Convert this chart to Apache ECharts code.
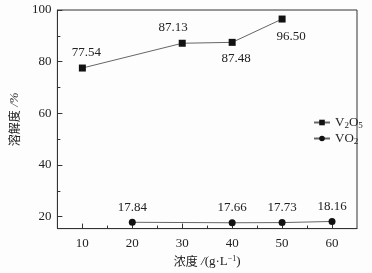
<!DOCTYPE html>
<html>
<head>
<meta charset="utf-8">
<script src="https://cdn.jsdelivr.net/npm/echarts@6/dist/echarts.min.js"></script>
<style>
  html, body { margin: 0; padding: 0; background: #fdfdfd; }
  #container { width: 372px; height: 273px; }
</style>
</head>
<body>
<div id="container"></div>
<script>
var concV2O5 = [10, 30, 40, 50];
var solV2O5 = [77.54, 87.13, 87.48, 96.50];
var concVO2 = [20, 40, 50, 60];
var solVO2 = [17.84, 17.66, 17.73, 18.16];
var xTicks = [10, 20, 30, 40, 50, 60];
var xMinor = [15, 25, 35, 45, 55];
var yTicks = [20, 40, 60, 80, 100];
var yMinor = [30, 50, 70, 90];

// label placement per point (top/bottom, x shift, distance)
var labelV2O5 = [
  { position: "top", offset: [4, 0], distance: 5 },
  { position: "top", offset: [-9, 0], distance: 6 },
  { position: "bottom", offset: [4, 0], distance: 6 },
  { position: "bottom", offset: [9, 0], distance: 8 }
];

var dom = document.getElementById("container");
var myChart = echarts.init(dom, null, { renderer: "canvas" });

var font = "Liberation Serif";
var cjk = "Noto Sans CJK SC";
var txt = "#222";

function pairs(xs, ys, labels) {
  return xs.map(function (x, i) {
    var d = { value: [x, ys[i]] };
    if (labels) d.label = labels[i];
    return d;
  });
}

var nameRich = {
  c: { fontFamily: cjk, fontSize: 12, color: txt },
  i: { fontFamily: font, fontSize: 13, color: txt, fontStyle: "italic" },
  r: { fontFamily: font, fontSize: 13, color: txt },
  sup: { fontFamily: font, fontSize: 8, color: txt, verticalAlign: "top", padding: [0, 0, 6, 0] }
};

var option = {
  backgroundColor: "#fdfdfd",
  animation: false,
  grid: {
    left: 53, right: 15, top: 10, bottom: 43,
    show: true, borderColor: "#333", borderWidth: 1, backgroundColor: "transparent"
  },
  legend: {
    left: 308, top: 111,
    orient: "vertical",
    itemWidth: 16, itemHeight: 7, itemGap: 2,
    textStyle: {
      fontFamily: font, fontSize: 13, color: txt,
      rich: {
        a: { fontFamily: font, fontSize: 13, color: txt },
        s: { fontFamily: font, fontSize: 9, color: txt, verticalAlign: "bottom", padding: [6, 0, 0, 0] }
      }
    },
    formatter: function (name) {
      return name === "V2O5" ? "{a|V}{s|2}{a|O}{s|5}" : "{a|VO}{s|2}";
    },
    data: ["V2O5", "VO2"]
  },
  xAxis: [
    {
      type: "value", min: 5, max: 65,
      name: "{c|浓度} {i|/}{r|(g·L}{sup|−1}{r|)}", nameLocation: "middle", nameGap: 24,
      nameTextStyle: { rich: nameRich },
      splitLine: { show: false },
      axisLine: { lineStyle: { color: "#333" } },
      axisTick: { inside: true, length: 5, lineStyle: { color: "#333" }, customValues: xTicks },
      axisLabel: { fontFamily: font, fontSize: 13, color: txt, margin: 8, customValues: xTicks }
    },
    {
      type: "value", min: 5, max: 65, position: "bottom",
      splitLine: { show: false },
      axisLine: { show: false },
      axisLabel: { show: false },
      axisTick: { inside: true, length: 3, lineStyle: { color: "#333" }, customValues: xMinor }
    }
  ],
  yAxis: [
    {
      type: "value", min: 15.4, max: 100,
      name: "{c|溶解度} {i|/%}", nameLocation: "middle", nameGap: 33,
      nameTextStyle: { rich: nameRich },
      splitLine: { show: false },
      axisLine: { show: true, lineStyle: { color: "#333" } },
      axisTick: { show: true, inside: true, length: 5, lineStyle: { color: "#333" }, customValues: yTicks },
      axisLabel: { fontFamily: font, fontSize: 13, color: txt, margin: 6, customValues: yTicks }
    },
    {
      type: "value", min: 15.4, max: 100, position: "left",
      splitLine: { show: false },
      axisLine: { show: false },
      axisLabel: { show: false },
      axisTick: { show: true, inside: true, length: 3, lineStyle: { color: "#333" }, customValues: yMinor }
    }
  ],
  series: [
    {
      name: "V2O5",
      type: "line",
      symbol: "rect", symbolSize: 7,
      itemStyle: { color: "#111" },
      lineStyle: { color: "#666", width: 1 },
      label: { show: true, fontFamily: font, fontSize: 13, color: txt,
        formatter: function (p) { return p.value[1].toFixed(2); } },
      data: pairs(concV2O5, solV2O5, labelV2O5)
    },
    {
      name: "VO2",
      type: "line",
      symbol: "circle", symbolSize: 7,
      itemStyle: { color: "#111" },
      lineStyle: { color: "#666", width: 1 },
      label: { show: true, position: "top", distance: 5, fontFamily: font, fontSize: 13, color: txt,
        formatter: function (p) { return p.value[1].toFixed(2); } },
      data: pairs(concVO2, solVO2)
    }
  ]
};

myChart.setOption(option);
window.addEventListener("resize", myChart.resize);
</script>
</body>
</html>
